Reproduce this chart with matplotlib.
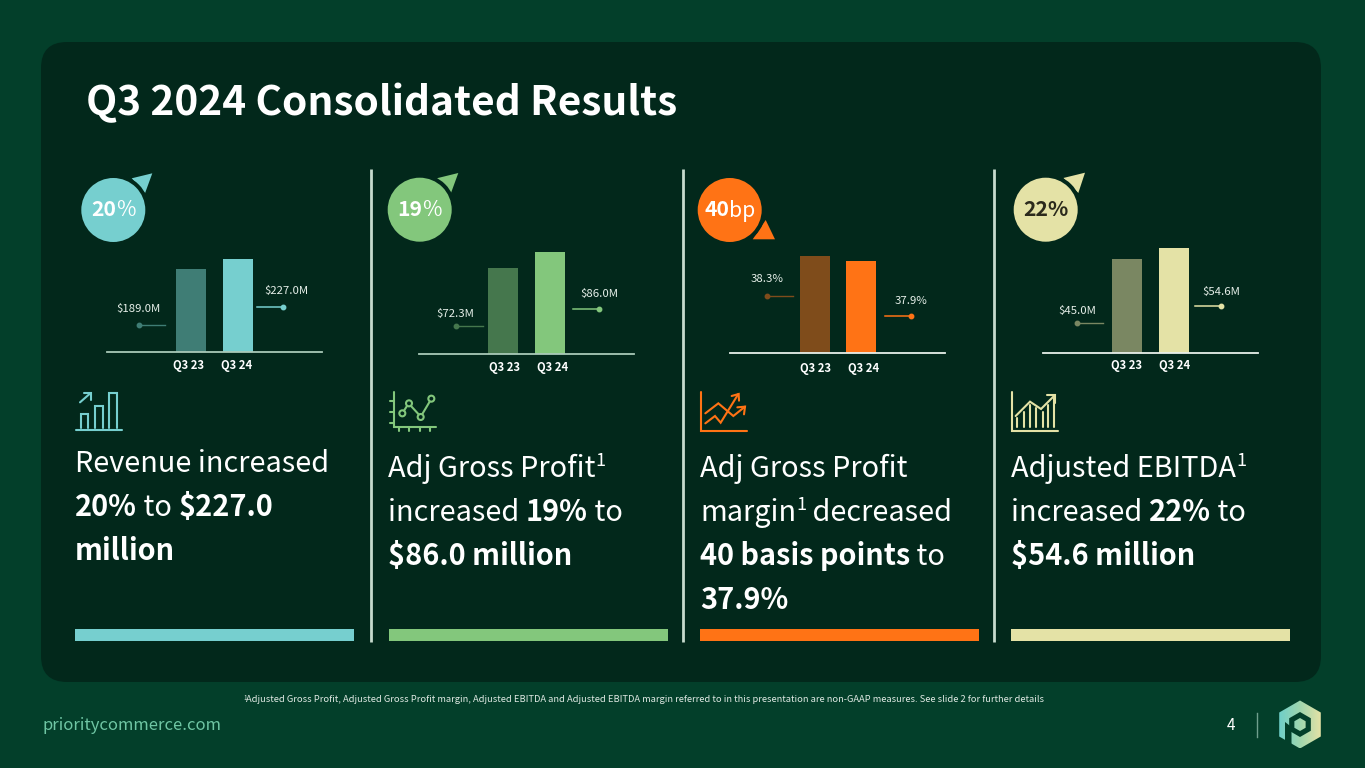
import numpy as np
import matplotlib
matplotlib.use("Agg")
import matplotlib.pyplot as plt
from matplotlib.patches import FancyBboxPatch, Circle, Polygon, Rectangle

plt.rcParams['font.family'] = ['Noto Sans CJK SC', 'DejaVu Sans']

# data
periods = ["Q3 23", "Q3 24"]
revenue = [189.0, 227.0]
gross_profit = [72.3, 86.0]
gp_margin = [38.3, 37.9]
ebitda = [45.0, 54.6]
value_labels = [["$189.0M", "$227.0M"], ["$72.3M", "$86.0M"], ["38.3%", "37.9%"], ["$45.0M", "$54.6M"]]
all_values = [revenue, gross_profit, gp_margin, ebitda]

BG = "#033f2a"
PANEL = "#02281b"
colors = ["#76cfcf", "#83c77c", "#ff7315", "#e4e2a6"]
dark_colors = ["#3f7d75", "#45774d", "#7f4c1b", "#7a8762"]

fig = plt.figure(figsize=(13.65, 7.68), dpi=100, facecolor=BG)
ax = fig.add_axes([0, 0, 1, 1])
ax.set_xlim(0, 1365)
ax.set_ylim(768, 0)
ax.axis("off")

ax.add_patch(FancyBboxPatch((41 + 26, 42 + 26), 1280 - 52, 640 - 52,
                            boxstyle="round,pad=26,rounding_size=26", fc=PANEL, ec="none"))
ax.text(86, 115, "Q3 2024 Consolidated Results", color="white", fontsize=29.2, fontweight="bold", va="baseline")

renderer = fig.canvas.get_renderer()


def runs(x, y, parts, color="white", size=20.8):
    # parts: (text, bold, superscript)
    for s, bold, sup in parts:
        fs = size * 0.62 if sup else size
        t = ax.text(x, y - (size * 0.55 if sup else 0), s, color=color, fontsize=fs,
                    fontweight="bold" if bold else "normal", va="baseline", ha="left")
        x += t.get_window_extent(renderer).width
    return x


R, B = (False, False), (True, False)
SUP = (False, True)
body_lines = [
    (75, [472, 516, 560], [[("Revenue increased", *R)],
                           [("20%", *B), (" to ", *R), ("$227.0", *B)],
                           [("million", *B)]]),
    (388, [477, 521, 565], [[("Adj Gross Profit", *R), ("1", *SUP)],
                            [("increased ", *R), ("19%", *B), (" to", *R)],
                            [("$86.0 million", *B)]]),
    (700, [477, 521, 565, 609], [[("Adj Gross Profit", *R)],
                                 [("margin", *R), ("1", *SUP), (" decreased", *R)],
                                 [("40 basis points", *B), (" to", *R)],
                                 [("37.9%", *B)]]),
    (1011, [477, 521, 565], [[("Adjusted EBITDA", *R), ("1", *SUP)],
                             [("increased ", *R), ("22%", *B), (" to", *R)],
                             [("$54.6 million", *B)]]),
]
for x0, ys, lines in body_lines:
    for y, parts in zip(ys, lines):
        runs(x0, y, parts)

# layout of the four small charts, in pixels
axis_x = [(107, 322), (419, 634), (730, 945), (1043, 1258)]
base_y = [352, 354, 352.5, 353.5]
bar_left = [(176, 222.5), (488, 534.5), (799.5, 846), (1112, 1158.5)]
bar_w = 30
# bottom of the value scale and its pixels per unit, fitted to the bar tops
y_floor = [-116.0, 1.57, 30.45, -34.9]
px_per_unit = [0.271, 1.2117, 12.25, 1.177]
tick_x = [(188.7, 236.7), (504.7, 553), (815.7, 863.7), (1126.3, 1174.3)]
tick_y = [365, 367, 368.3, 366]
left_dot = [(139, 325.3, 165), (456, 326.3, 482.7), (766.7, 296.3, 792.7), (1077, 323.3, 1103.3)]
right_dot = [(283, 307.3, 257.3), (599, 309, 573.3), (910.7, 315.7, 884.7), (1221, 305.7, 1195)]
left_lab = [(138.3, 309), (455.3, 313.7), (767.3, 279), (1077.3, 311)]
right_lab = [(286.7, 291), (599.3, 293.7), (911, 300.7), (1221.3, 292.3)]

for i, vals in enumerate(all_values):
    x0, x1 = axis_x[i]
    top_px = 240
    iax = fig.add_axes([x0 / 1365, 1 - base_y[i] / 768, (x1 - x0) / 1365, (base_y[i] - top_px) / 768])
    iax.patch.set_alpha(0)
    iax.set_xlim(x0, x1)
    iax.set_ylim(y_floor[i], y_floor[i] + (base_y[i] - top_px) / px_per_unit[i])
    for j, v in enumerate(vals):
        iax.bar(bar_left[i][j], v - y_floor[i], width=bar_w, bottom=y_floor[i], align="edge",
                color=[dark_colors[i], colors[i]][j])
    for s in ["top", "left", "right"]:
        iax.spines[s].set_visible(False)
    iax.spines["bottom"].set_color("#a9c9b8" if i < 2 else "#e8f0ea")
    iax.spines["bottom"].set_linewidth(1.3)
    iax.set_yticks([])
    iax.set_xticks([])

    for j, p in enumerate(periods):
        ax.text(tick_x[i][j], tick_y[i], p, color="white", fontsize=8.1, fontweight="bold", ha="center", va="center")

    dx, dy, ex = left_dot[i]
    ax.plot([dx, ex], [dy, dy], color=dark_colors[i], lw=1)
    ax.plot(dx, dy, "o", color=dark_colors[i], ms=3.2)
    dx, dy, ex = right_dot[i]
    ax.plot([dx, ex], [dy, dy], color=colors[i], lw=1.1)
    ax.plot(dx, dy, "o", color=colors[i], ms=3.2)
    ax.text(left_lab[i][0], left_lab[i][1], value_labels[i][0], color="#e6efe9", fontsize=8.2, ha="center", va="center")
    ax.text(right_lab[i][0], right_lab[i][1], value_labels[i][1], color="#e6efe9", fontsize=8.2, ha="center", va="center")

# bubbles
bubble_xy = [(113.3, 210), (419.7, 209.7), (729.7, 210), (1045.7, 209.7)]
pointers = [[(131.7, 178.3), (152.3, 173.3), (145, 193.3)],
            [(436.7, 178.3), (458.3, 173), (451, 193)],
            [(752.7, 239.3), (775, 239.3), (765.7, 220)],
            [(1063.3, 178), (1085, 172.7), (1078.3, 193)]]
bubble_text = [("20", "%"), ("19", "%"), ("40", "bp"), ("22%", "")]
bubble_tc = ["white", "white", "white", "#2b2a1c"]
bubble_size = 15.2
for i, (cx, cy) in enumerate(bubble_xy):
    ax.add_patch(Polygon(pointers[i], fc=colors[i], ec="none"))
    ax.add_patch(Circle((cx, cy), 36, fc=PANEL, ec="none"))
    ax.add_patch(Circle((cx, cy), 32, fc=colors[i], ec="none"))
    a, b = bubble_text[i]
    t1 = ax.text(0, 0, a, fontsize=bubble_size, fontweight="bold")
    w = t1.get_window_extent(renderer).width
    t1.remove()
    if b:
        t2 = ax.text(0, 0, b, fontsize=bubble_size)
        w += t2.get_window_extent(renderer).width
        t2.remove()
    parts = [(a, True, False)] + ([(b, False, False)] if b else [])
    runs(cx - w / 2, cy + 6.5, parts, color=bubble_tc[i], size=bubble_size)

# dividers and colour bars
for x in [371, 682.5, 993.5]:
    ax.plot([x, x], [169, 642], color="#c6dacd", lw=2, solid_capstyle="butt")
for x, c in zip([75, 388.5, 700, 1011], colors):
    ax.add_patch(Rectangle((x, 629), 279, 12, fc=c, ec="none"))


# icons, traced in the 3x zoom coordinates
def icon(ox, oy, c, lines, lw=1.5):
    for pts in lines:
        p = np.array(pts, dtype=float)
        ax.plot(ox + p[:, 0] / 3, oy + p[:, 1] / 3, color=c, lw=lw, solid_capstyle="round", solid_joinstyle="miter")


icon(60, 160, colors[0], [
    [(47, 811), (187, 811)],
    [(62, 805), (62, 762), (85, 762), (85, 805)],
    [(105, 805), (105, 737), (129, 737), (129, 805)],
    [(147, 805), (147, 699), (172, 699), (172, 805)],
    [(60, 727), (92, 699)], [(72, 699), (92, 699), (92, 720)]])
icon(370, 160, colors[1], [
    [(72, 697), (72, 800), (198, 800)],
    [(60, 722), (72, 722)], [(60, 755), (72, 755)], [(60, 788), (72, 788)],
    [(87, 800), (87, 812)], [(118, 800), (118, 812)], [(150, 800), (150, 812)], [(180, 800), (180, 812)],
    [(102, 752), (111, 738)], [(123, 738), (146, 763)], [(157, 762), (179, 725)]])
for zx, zy in [(97, 760), (117, 730), (152, 771), (184, 716)]:
    ax.add_patch(Circle((370 + zx / 3, 160 + zy / 3), 3, fc="none", ec=colors[1], lw=1.5))
icon(680, 160, colors[2], [
    [(62, 697), (62, 813), (202, 813)],
    [(76, 760), (115, 730), (160, 768), (195, 740)], [(172, 742), (195, 740), (192, 763)],
    [(76, 790), (105, 768), (122, 788), (175, 702)], [(155, 708), (176, 702), (177, 722)]])
bar_xs = [67, 86, 105, 124, 143, 160, 178]
bar_tops = [775, 755, 735, 745, 755, 735, 715]
icon(995, 160, colors[3], [[(50, 697), (50, 812), (188, 812)],
                           [(62, 768), (105, 725), (138, 747), (180, 705)],
                           [(157, 705), (180, 705), (180, 730)]] +
     [[(xx, 800), (xx, tt)] for xx, tt in zip(bar_xs, bar_tops)])

# footer
ax.text(243, 698, "1", color="#dfe9e3", fontsize=4.5, va="center", ha="left")
ax.text(246, 700, "Adjusted Gross Profit, Adjusted Gross Profit margin, Adjusted EBITDA and Adjusted EBITDA margin "
        "referred to in this presentation are non-GAAP measures. See slide 2 for further details",
        color="#dfe9e3", fontsize=6.72, va="center", ha="left")
ax.text(42, 725, "prioritycommerce.com", color="#6fc6a4", fontsize=12, va="center", ha="left")
ax.text(1231, 725, "4", color="white", fontsize=11, va="center", ha="center")
ax.plot([1257, 1257], [713, 737], color="#6f9f8d", lw=1)

# logo
cx, cy = 1300, 724.5
ang = np.deg2rad([90, 30, -30, -90, -150, 150])
hex_out = np.c_[cx + 24 * np.cos(ang), cy - 24 * np.sin(ang)]
hex_in = np.c_[cx + 12.5 * np.cos(ang), cy - 12.5 * np.sin(ang)]
hex_mid = np.c_[cx + 6.5 * np.cos(ang), cy - 6.5 * np.sin(ang)]
grad = np.linspace(0, 1, 64).reshape(1, -1)
cmap = matplotlib.colors.LinearSegmentedColormap.from_list("logo", ["#6fcfc9", "#9fd6ae", "#e4e2a6"])
im = ax.imshow(grad, extent=(cx - 21, cx + 21, cy + 24, cy - 24), cmap=cmap, aspect="auto", zorder=3)
im.set_clip_path(Polygon(hex_out, transform=ax.transData))
ax.add_patch(Polygon(hex_in, fc=BG, ec="none", zorder=4))
im2 = ax.imshow(grad, extent=(cx - 21, cx + 21, cy + 24, cy - 24), cmap=cmap, aspect="auto", zorder=5)
im2.set_clip_path(Polygon(hex_mid, transform=ax.transData))
# gap on the lower left that makes the hexagon read as a p
ax.add_patch(Polygon([(1285, 722), (1291.5, 727), (1291.5, 750), (1285, 750)], fc=BG, ec="none", zorder=4))
ax.set_xlim(0, 1365)
ax.set_ylim(768, 0)

fig.savefig("out.png", dpi=100, facecolor=BG)
